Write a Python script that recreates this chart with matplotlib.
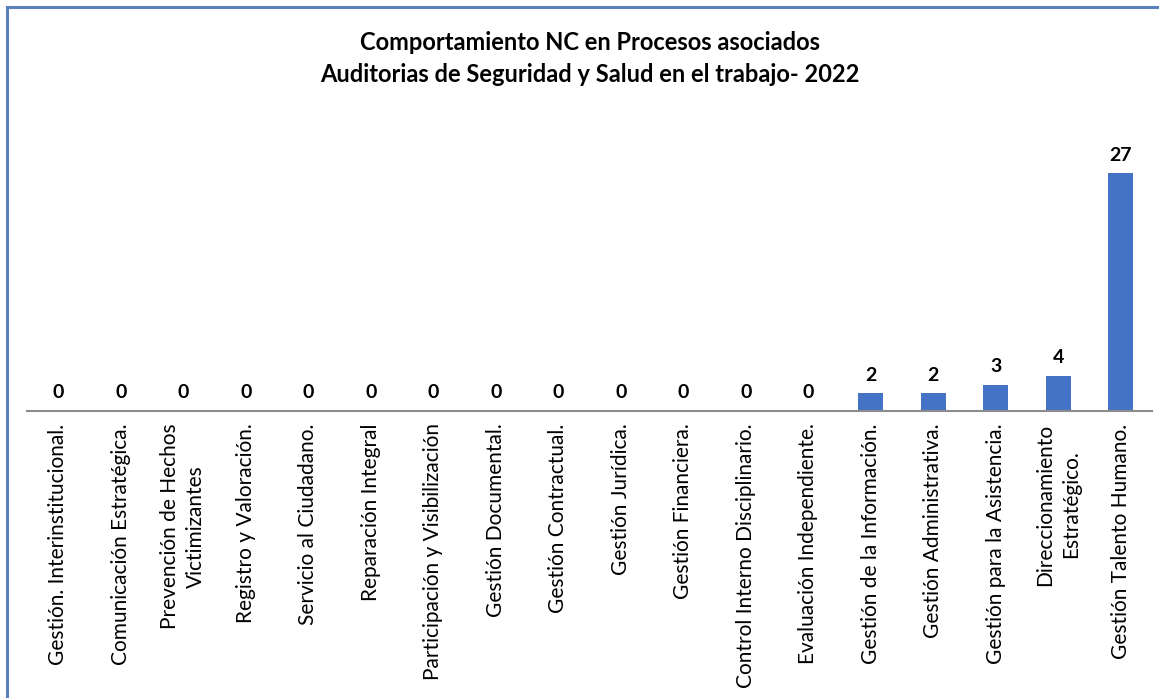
import matplotlib
matplotlib.use("Agg")
import matplotlib.pyplot as plt
from matplotlib.patches import Rectangle

categories = [
    "Gestión. Interinstitucional.",
    "Comunicación Estratégica.",
    "Prevención de Hechos\nVictimizantes",
    "Registro y Valoración.",
    "Servicio al Ciudadano.",
    "Reparación Integral",
    "Participación y Visibilización",
    "Gestión Documental.",
    "Gestión Contractual.",
    "Gestión Jurídica.",
    "Gestión Financiera.",
    "Control Interno Disciplinario.",
    "Evaluación Independiente.",
    "Gestión de la Información.",
    "Gestión Administrativa.",
    "Gestión para la Asistencia.",
    "Direccionamiento\nEstratégico.",
    "Gestión Talento Humano.",
]
values = [0, 0, 0, 0, 0, 0, 0, 0, 0, 0, 0, 0, 0, 2, 2, 3, 4, 27]
title_lines = ["Comportamiento NC en Procesos asociados",
               "Auditorias de Seguridad y Salud en el trabajo- 2022"]

plt.rcParams['font.family'] = ['Lato', 'DejaVu Sans']
W, H = 1159, 698
fig = plt.figure(figsize=(W/100, H/100), dpi=100)
fig.patch.set_facecolor('white')

# border
fig.add_artist(Rectangle((7/W, -0.05), 1.2, (H-7)/H + 0.05, transform=fig.transFigure,
                         fill=False, edgecolor='#5B80BE', linewidth=2.2))

ax = fig.add_axes([27/W, (H-411)/H, 1125/W, (411-147)/H])
x = list(range(len(categories)))
ax.bar(x, values, width=0.4, color='#4472C4', zorder=2)
ax.set_xlim(-0.5, len(categories)-0.5)
ax.set_ylim(0, 30)
for s in ['top', 'right', 'left']:
    ax.spines[s].set_visible(False)
ax.spines['bottom'].set_color('#8C8C8C')
ax.spines['bottom'].set_linewidth(1.5)
ax.set_yticks([])
ax.set_xticks(x)
ax.set_xticklabels(categories, rotation=90, ha='center', va='top',
                   fontsize=15, multialignment='center', linespacing=1.35)
ax.tick_params(axis='x', length=0, pad=9)
for xi, v in zip(x, values):
    ax.annotate(str(v), (xi, v), xytext=(0, 7), textcoords='offset points',
                ha='center', va='bottom', fontsize=14, fontweight='bold')

fig.text(0.509, 1 - 42/H, title_lines[0], ha='center', va='center',
         fontsize=17, fontweight='bold')
fig.text(0.509, 1 - 74/H, title_lines[1], ha='center', va='center',
         fontsize=17, fontweight='bold')

fig.savefig("out.png", dpi=100)
